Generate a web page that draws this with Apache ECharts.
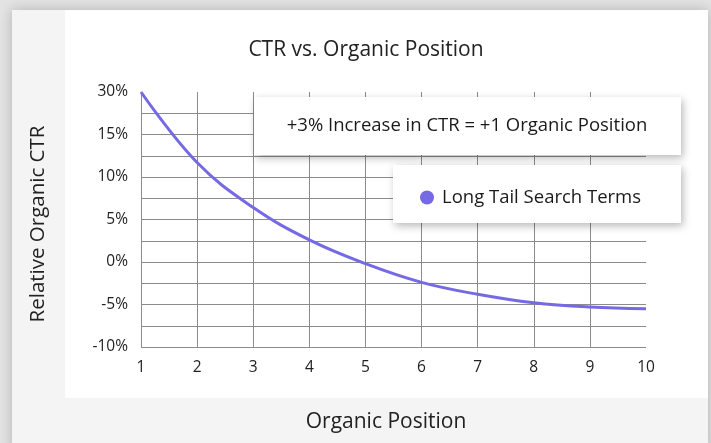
<!DOCTYPE html>
<html>
<head>
<meta charset="utf-8">
<script src="https://cdn.jsdelivr.net/npm/echarts@6/dist/echarts.min.js"></script>
<style>
  html, body { margin: 0; padding: 0; background: #e3e3e3; }
  #chart { width: 711px; height: 443px; }
</style>
</head>
<body>
<div id="chart"></div>
<script>
// positions on the x axis and relative CTR (%)
var positions = [1, 2, 3, 4, 5, 6, 7, 8, 9, 10];
var ctrValues = [20, 11.7, 6.4, 2.6, -0.2, -2.4, -3.8, -4.8, -5.3, -5.5];

var xTickLabels = ['1', '2', '3', '4', '5', '6', '7', '8', '9', '10'];
var yTickValues = [-10, -5, 0, 5, 10, 15, 20];
var yTickLabels = ['-10%', '-5%', '0%', '5%', '10%', '15%', '30%'];

var seriesName = 'Long Tail Search Terms';
var noteText = '+3% Increase in CTR = +1 Organic Position';

var gridGray = '#8c8c8c';
var lineColor = '#7669e4';
var textColor = '#222';
var font = '"Open Sans", "Noto Sans", sans-serif';

var chart = echarts.init(document.getElementById('chart'));

var points = [];
for (var i = 0; i < positions.length; i++) {
	points.push([positions[i], ctrValues[i]]);
}

// last split line of each axis is not drawn in the reference
var ySplitColors = [];
for (var k = 0; k < 12; k++) ySplitColors.push(gridGray);
ySplitColors.push('rgba(0,0,0,0)');
var xSplitColors = [];
for (var k = 0; k < 9; k++) xSplitColors.push(gridGray);
xSplitColors.push('rgba(0,0,0,0)');

var option = {
	backgroundColor: '#e3e3e3',
	animation: false,
	textStyle: { fontFamily: font },
	title: {
		text: 'CTR vs. Organic Position',
		left: 361,
		top: 35,
		textAlign: 'center',
		textStyle: { fontFamily: font, fontSize: 21, fontWeight: 'normal', color: textColor }
	},
	graphic: [
		{ type: 'rect', z: -10, shape: { x: 12, y: 10, width: 696, height: 440 },
		  style: { fill: '#fff', shadowBlur: 12, shadowColor: 'rgba(0,0,0,0.22)' } },
		{ type: 'rect', z: -9, shape: { x: 12, y: 10, width: 53, height: 440 },
		  style: { fill: '#f4f4f4' } },
		{ type: 'rect', z: -9, shape: { x: 65, y: 398, width: 643, height: 50 },
		  style: { fill: '#f4f4f4' } },
		{ type: 'text', z: 5, x: 38, y: 224, rotation: Math.PI / 2,
		  style: { text: 'Relative Organic CTR', fontFamily: font, fontSize: 20.5, fill: textColor,
		           align: 'center', verticalAlign: 'middle' } },
		{ type: 'text', z: 5, x: 386, y: 422,
		  style: { text: 'Organic Position', fontFamily: font, fontSize: 21, fill: textColor,
		           align: 'center', verticalAlign: 'middle' } },
		{ type: 'rect', z: 3, shape: { x: 254, y: 97, width: 427, height: 58 },
		  style: { fill: '#fff', shadowBlur: 8, shadowOffsetX: 2, shadowOffsetY: 3, shadowColor: 'rgba(0,0,0,0.28)' } },
		{ type: 'text', z: 4, x: 467, y: 126,
		  style: { text: noteText, fontFamily: font, fontSize: 18.5, fill: '#1a1a1a',
		           align: 'center', verticalAlign: 'middle' } },
		{ type: 'rect', z: 3, shape: { x: 393, y: 165, width: 288, height: 58 },
		  style: { fill: '#fff', shadowBlur: 8, shadowOffsetX: 2, shadowOffsetY: 3, shadowColor: 'rgba(0,0,0,0.28)' } }
	],
	legend: {
		z: 5,
		left: 415,
		top: 183,
		icon: 'circle',
		itemWidth: 14,
		itemHeight: 14,
		textStyle: { fontFamily: font, fontSize: 18.5, color: '#1a1a1a', padding: [0, 0, 0, 3] },
		data: [seriesName]
	},
	grid: { left: 141, right: 65, top: 92, bottom: 96 },
	xAxis: {
		type: 'value',
		min: 1,
		max: 10,
		interval: 1,
		axisLine: { show: false },
		axisTick: { show: false },
		axisLabel: {
			margin: 13,
			fontSize: 15.5,
			color: textColor,
			formatter: function (v) { return xTickLabels[Math.round(v) - 1] || ''; }
		},
		splitLine: { show: true, lineStyle: { color: xSplitColors, width: 1 } }
	},
	yAxis: {
		type: 'value',
		min: -10,
		max: 20,
		interval: 2.5,
		axisLine: { show: false },
		axisTick: { show: false },
		axisLabel: {
			margin: 13,
			fontSize: 15.5,
			color: textColor,
			formatter: function (v) {
				var idx = yTickValues.indexOf(v);
				return idx >= 0 ? yTickLabels[idx] : '';
			}
		},
		splitLine: { show: true, lineStyle: { color: ySplitColors, width: 1 } }
	},
	series: [
		{
			name: seriesName,
			type: 'line',
			data: points,
			smooth: 0.4,
			showSymbol: false,
			symbol: 'circle',
			itemStyle: { color: lineColor },
			lineStyle: { color: lineColor, width: 3 }
		}
	]
};

chart.setOption(option);
</script>
</body>
</html>
